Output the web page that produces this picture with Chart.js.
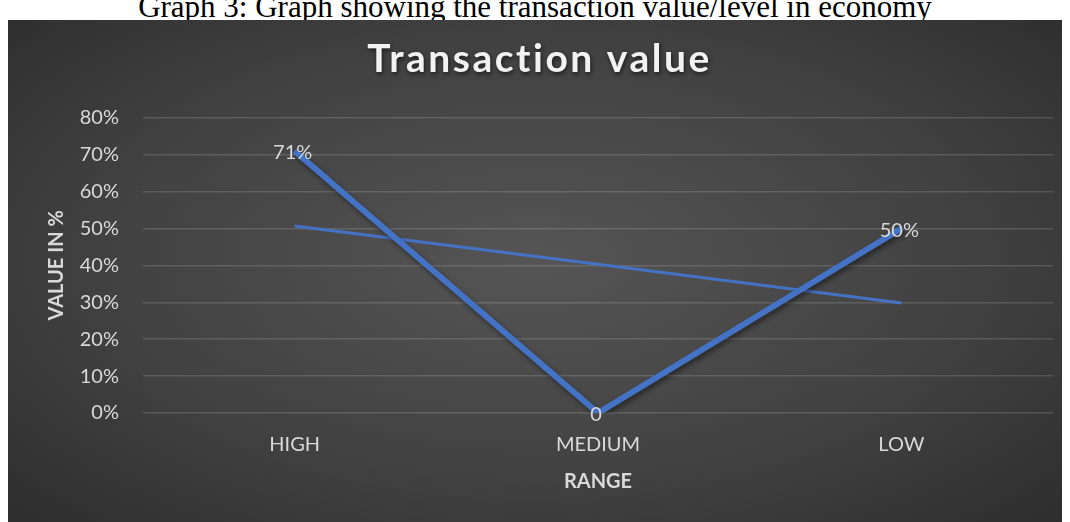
<!DOCTYPE html>
<html>
<head>
<meta charset="utf-8">
<script src="https://cdn.jsdelivr.net/npm/chart.js@4.4.1/dist/chart.umd.min.js"></script>
<style>
  html, body { margin: 0; padding: 0; background: #ffffff; width: 1070px; height: 522px; overflow: hidden; }
  #caption { position: absolute; left: 0; top: -11px; width: 1070px; text-align: center;
    font-family: "Liberation Serif", "Times New Roman", serif; font-size: 31px; color: #000; white-space: nowrap; }
  #panel { position: absolute; left: 8px; top: 20px; width: 1054px; height: 502px;
    background: radial-gradient(ellipse 75% 80% at 50% 48%, #555555 0%, #414141 55%, #2a2a2a 100%); }
  #c { display: block; }
</style>
</head>
<body>
<div id="caption">Graph 3: Graph showing the transaction value/level in economy</div>
<div id="panel"><canvas id="c" width="1054" height="502"></canvas></div>
<script>
const categories = ["HIGH", "MEDIUM", "LOW"];
const transactionValues = [71, 0, 50];
const dataLabels = ["71%", "0", "50%"];
const trendValues = [50.7, 40.3, 29.8];
const yTicks = [0, 10, 20, 30, 40, 50, 60, 70, 80];
const chartTitle = "Transaction value";
const xTitle = "RANGE";
const yTitle = "VALUE IN %";

const LINE = "#4472C4";
const TXT = "#d9d9d9";
const FONT = "Lato, 'Open Sans', sans-serif";

const lineShadow = {
  id: 'lineShadow',
  beforeDatasetDraw(chart, args) {
    const ctx = chart.ctx;
    ctx.save();
    if (args.index === 1) {
      ctx.shadowColor = 'rgba(0,0,0,0.45)';
      ctx.shadowBlur = 5;
      ctx.shadowOffsetX = 2;
      ctx.shadowOffsetY = 3;
    }
  },
  afterDatasetDraw(chart) { chart.ctx.restore(); }
};

const pointLabels = {
  id: 'pointLabels',
  afterDatasetsDraw(chart) {
    const ctx = chart.ctx;
    const meta = chart.getDatasetMeta(1);
    ctx.save();
    ctx.font = "20px " + FONT;
    ctx.fillStyle = TXT;
    ctx.textAlign = 'center';
    ctx.textBaseline = 'middle';
    meta.data.forEach((pt, i) => {
      ctx.fillText(dataLabels[i], pt.x - 2, pt.y + 2);
    });
    ctx.restore();
  }
};

const titleStyle = {
  id: 'titleStyle',
  afterLayout(chart) {
    const tb = chart.titleBlock;
    if (tb && !tb._wrapped) {
      const orig = tb.draw.bind(tb);
      tb.draw = function () {
        const ctx = this.ctx;
        ctx.save();
        ctx.translate(9, 0);
        ctx.letterSpacing = '2.5px';
        ctx.shadowColor = 'rgba(0,0,0,0.6)';
        ctx.shadowBlur = 4;
        ctx.shadowOffsetX = 1;
        ctx.shadowOffsetY = 2;
        orig();
        ctx.restore();
      };
      tb._wrapped = true;
    }
  }
};

new Chart(document.getElementById('c'), {
  type: 'line',
  data: {
    labels: categories,
    datasets: [
      {
        label: 'Linear trend',
        data: trendValues,
        borderColor: LINE,
        borderWidth: 3,
        pointRadius: 0,
        tension: 0,
        fill: false,
        order: 2
      },
      {
        label: 'Transaction value',
        data: transactionValues,
        borderColor: LINE,
        borderWidth: 6,
        pointRadius: 0,
        tension: 0,
        fill: false,
        order: 1
      }
    ]
  },
  options: {
    responsive: false,
    animation: false,
    devicePixelRatio: 1,
    layout: { padding: { left: 0, right: 9, top: 0, bottom: 28 } },
    plugins: {
      legend: { display: false },
      tooltip: { enabled: false },
      title: {
        display: true,
        text: chartTitle,
        color: '#f2f2f2',
        font: { family: FONT, size: 39, weight: 'bold', lineHeight: 1.2 },
        padding: { top: 16, bottom: 35 }
      }
    },
    scales: {
      x: {
        offset: true,
        grid: { display: false, drawTicks: false },
        border: { display: false },
        ticks: { color: TXT, font: { family: FONT, size: 20 }, padding: 20, maxRotation: 0 },
        title: { display: true, text: xTitle, color: TXT,
          font: { family: FONT, size: 20, weight: 'bold', lineHeight: 1.2 },
          padding: { top: -7, bottom: 0 } }
      },
      y: {
        min: 0,
        max: 80,
        afterBuildTicks(scale) { scale.ticks = yTicks.map(v => ({ value: v })); },
        afterFit(scale) { scale.width = 135; },
        grid: { color: 'rgba(255,255,255,0.14)', lineWidth: 1.5, drawTicks: false },
        border: { display: false },
        ticks: { color: TXT, font: { family: FONT, size: 20 }, padding: 24,
          callback: v => v + '%' },
        title: { display: true, text: yTitle, color: TXT,
          font: { family: FONT, size: 20, weight: 'bold', lineHeight: 1.2 },
          padding: { top: 37, bottom: 0 } }
      }
    }
  },
  plugins: [lineShadow, pointLabels, titleStyle]
});
</script>
</body>
</html>
